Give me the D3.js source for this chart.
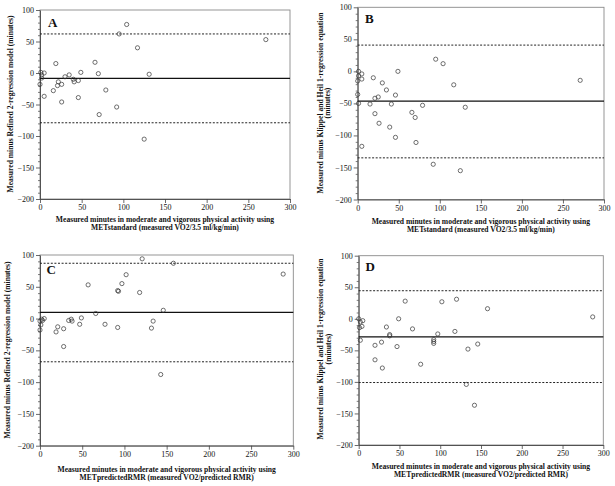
<!DOCTYPE html>
<html><head><meta charset="utf-8">
<script src="https://cdn.jsdelivr.net/npm/d3@7"></script>
<style>
html,body{margin:0;padding:0;background:#fff;}
svg text{font-family:"Liberation Serif","Times New Roman",serif;fill:#111;}
</style></head>
<body><svg id="chart" width="615" height="486"></svg>
<script>
// ---- data ----
const xTicks = [0, 50, 100, 150, 200, 250, 300];
const yTicks = [-200, -150, -100, -50, 0, 50, 100];

const panelLetters = ["A", "B", "C", "D"];
const xTitles = [
  ["Measured minutes in moderate and vigorous physical activity using", "METstandard (measured VO2/3.5 ml/kg/min)"],
  ["Measured minutes in moderate and vigorous physical activity using", "METstandard (measured VO2/3.5 ml/kg/min)"],
  ["Measured minutes in moderate and vigorous physical activity using", "METpredictedRMR (measured VO2/predicted RMR)"],
  ["Measured minutes in moderate and vigorous physical activity using", "METpredictedRMR (measured VO2/predicted RMR)"]
];
const yTitles = [
  ["Measured minus Refined 2-regression model (minutes)"],
  ["Measured minus Klippel and Heil 1-regression equation", "(minutes)"],
  ["Measured minus Refined 2-regression model (minutes)"],
  ["Measured minus Klippel and Heil 1-regression equation", "(minutes)"]
];

const aX = [1, 5, 2, 2, 0, 5, 19, 30, 35, 40, 41, 46, 49, 22, 21, 26, 16, 26, 46, 66, 70, 79, 92, 71, 95, 104, 117, 131, 125, 271];
const aY = [1, 0, -3, -8, -18, -37, 15, -6, -3, -10, -14, -12, 1, -14, -20, -18, -28, -46, -39, 17, -1, -27, -54, -66, 62, 77, 40, -2, -105, 53];
const aMean = -8.5, aUpper = 62, aLower = -79;

const bX = [95, 104, 117, 271, 49, 1, 5, 1, 5, 0, 19, 30, 35, 25, 21, 46, 0, 41, 15, 1, 79, 131, 21, 66, 70, 26, 39, 46, 71, 5, 92, 125];
const bY = [19, 12, -21, -14, 0, 0, -4, -7, -12, -15, -10, -18, -29, -40, -42, -37, -36, -51, -51, -50, -53, -56, -66, -64, -72, -81, -87, -103, -111, -117, -145, -155];
const bMean = -46.5, bUpper = 41, bLower = -135;

const cX = [121, 158, 288, 102, 97, 57, 92, 93, 118, 146, 66, 49, 37, 34, 38, 2, 5, 3, 0, 1, 0, 134, 47, 77, 21, 28, 92, 132, 19, 28, 143];
const cY = [94, 87, 70, 69, 55, 53, 44, 43, 41, 13, 8, 1, -1, -3, -4, -1, 0, -3, -4, -10, -18, -4, -9, -9, -13, -16, -14, -15, -21, -44, -88];
const cMean = 9.8, cUpper = 87, cLower = -68;

const dX = [57, 102, 120, 158, 287, 49, 0, 5, 2, 4, 1, 34, 66, 118, 38, 38, 97, 92, 92, 92, 2, 20, 28, 47, 134, 146, 20, 76, 29, 132, 142];
const dY = [28, 27, 31, 16, 3, 0, 0, -3, -5, -12, -14, -13, -16, -20, -25, -27, -24, -33, -36, -39, -34, -42, -37, -44, -48, -40, -65, -72, -78, -104, -137];
const dMean = -28.7, dUpper = 44.5, dLower = -101;

// ---- layout ----
const panels = [
  {xs: aX, ys: aY, mean: aMean, up: aUpper, lo: aLower, x0: 40, x1: 290, y0: 10, y1: 199,
   letter: [48, 26.5], yt: [10], ytc: 104, xt: [222, 229.5]},
  {xs: bX, ys: bY, mean: bMean, up: bUpper, lo: bLower, x0: 357.7, x1: 604, y0: 7.3, y1: 199.5,
   letter: [365, 23.3], yt: [320, 327.5], ytc: 103, xt: [224.3, 232.3]},
  {xs: cX, ys: cY, mean: cMean, up: cUpper, lo: cLower, x0: 40, x1: 293.3, y0: 255, y1: 445.7,
   letter: [46.5, 274.3], yt: [7.5], ytc: 350, xt: [472, 479.5]},
  {xs: dX, ys: dY, mean: dMean, up: dUpper, lo: dLower, x0: 358.7, x1: 603.3, y0: 255.7, y1: 445,
   letter: [365.5, 271], yt: [320.5, 328.3], ytc: 349, xt: [469.3, 477.3]}
];

const svg = d3.select("#chart");

panels.forEach((p, i) => {
  const x = d3.scaleLinear().domain([0, 300]).range([p.x0, p.x1]);
  const y = d3.scaleLinear().domain([-200, 100]).range([p.y1, p.y0]);
  const g = svg.append("g");

  // frame
  g.append("rect").attr("x", p.x0).attr("y", p.y0).attr("width", p.x1 - p.x0).attr("height", p.y1 - p.y0)
    .attr("fill", "none").attr("stroke", "#8a8a8a").attr("stroke-width", 0.9);

  // minor y ticks
  const minor = d3.range(-200, 101, 10).filter(v => v % 50 !== 0);
  g.append("g").attr("transform", `translate(${p.x0},0)`)
    .call(d3.axisLeft(y).tickValues(minor).tickSize(2).tickFormat(""))
    .call(s => s.select(".domain").remove())
    .selectAll("line").attr("stroke", "#444").attr("stroke-width", 0.7);

  // y axis
  const ya = g.append("g").attr("transform", `translate(${p.x0},0)`)
    .call(d3.axisLeft(y).tickValues(yTicks).tickSize(4).tickSizeOuter(0).tickPadding(2));
  ya.select(".domain").attr("stroke", "#444").attr("stroke-width", 0.9);
  ya.selectAll("line").attr("stroke", "#444").attr("stroke-width", 0.8);
  ya.selectAll("text").attr("font-family", "Liberation Serif").attr("font-size", 8).attr("fill", "#222");

  // x axis
  const xa = g.append("g").attr("transform", `translate(0,${p.y1})`)
    .call(d3.axisBottom(x).tickValues(xTicks).tickSize(4).tickSizeOuter(0).tickPadding(1.5));
  xa.select(".domain").attr("stroke", "#444").attr("stroke-width", 0.9);
  xa.selectAll("line").attr("stroke", "#444").attr("stroke-width", 0.8);
  xa.selectAll("text").attr("font-family", "Liberation Serif").attr("font-size", 8).attr("fill", "#222");

  // reference lines
  g.append("line").attr("x1", p.x0).attr("x2", p.x1).attr("y1", y(p.mean)).attr("y2", y(p.mean))
    .attr("stroke", "#111").attr("stroke-width", 1.3);
  [p.up, p.lo].forEach(v => {
    g.append("line").attr("x1", p.x0).attr("x2", p.x1).attr("y1", y(v)).attr("y2", y(v))
      .attr("stroke", "#222").attr("stroke-width", 1).attr("stroke-dasharray", "2,1.6");
  });

  // points
  g.selectAll("circle.pt").data(p.xs.map((v, k) => [v, p.ys[k]])).join("circle")
    .attr("class", "pt").attr("cx", d => x(d[0])).attr("cy", d => y(d[1])).attr("r", 2.1)
    .attr("fill", "none").attr("stroke", "#333").attr("stroke-width", 0.7);

  // panel letter
  g.append("text").attr("x", p.letter[0]).attr("y", p.letter[1]).text(panelLetters[i])
    .attr("font-size", 13).attr("font-weight", "bold");

  // x title
  xTitles[i].forEach((t, k) => {
    g.append("text").attr("x", (p.x0 + p.x1) / 2).attr("y", p.xt[k]).attr("text-anchor", "middle")
      .attr("font-size", 7.6).attr("font-weight", "bold").text(t);
  });

  // y title
  yTitles[i].forEach((t, k) => {
    g.append("text").attr("transform", `translate(${p.yt[k]},${p.ytc}) rotate(-90)`)
      .attr("text-anchor", "middle").attr("dominant-baseline", "central")
      .attr("font-size", 7.6).attr("font-weight", "bold").text(t);
  });
});
</script></body></html>
